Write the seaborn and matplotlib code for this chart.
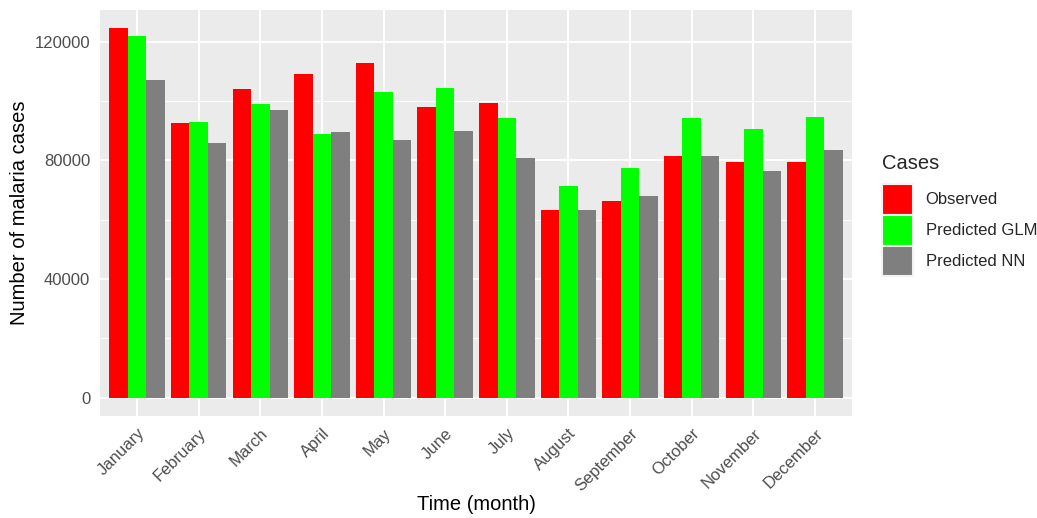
"""
Observed vs predicted malaria cases per month (GLM and NN), ggplot-like look.
"""
import numpy as np
import pandas as pd
import matplotlib
matplotlib.use("Agg")
import matplotlib.pyplot as plt
import matplotlib.patches as mpatches
import seaborn as sns

# ── data ─────────────────────────────────────────────────────────────────────
months = ["January", "February", "March", "April", "May", "June",
          "July", "August", "September", "October", "November", "December"]
observed  = [124500, 92700, 104200, 109300, 113000, 98100,
             99500, 63300, 66400, 81600, 79500, 79500]
pred_glm  = [121800, 93100, 99100, 89000, 103200, 104500,
             94400, 71400, 77500, 94400, 90700, 94700]
pred_nn   = [107200, 86000, 97100, 89700, 87000, 90000,
             80900, 63300, 68000, 81600, 76500, 83600]
series    = ["Observed", "Predicted GLM", "Predicted NN"]
colors    = ["#FF0000", "#00FF00", "#7F7F7F"]
y_ticks   = [0, 40000, 80000, 120000]

df = pd.DataFrame({
    "Month": months * 3,
    "Cases": observed + pred_glm + pred_nn,
    "Series": np.repeat(series, len(months)),
})

# ── style ────────────────────────────────────────────────────────────────────
sns.set_theme(style="white")
plt.rcParams["font.family"] = ["Liberation Sans", "DejaVu Sans"]

fig, ax = plt.subplots(figsize=(10.37, 5.18), dpi=100)
fig.subplots_adjust(left=100 / 1037, right=852 / 1037,
                    top=1 - 10 / 518, bottom=1 - 416 / 518)

sns.barplot(data=df, x="Month", y="Cases", hue="Series",
            order=months, hue_order=series, palette=colors,
            width=0.9, saturation=1, linewidth=0, errorbar=None, ax=ax)

ax.set_facecolor("#EBEBEB")
for s in ax.spines.values():
    s.set_visible(False)

ymax = max(observed + pred_glm + pred_nn)
ax.set_ylim(-0.05 * ymax, 1.05 * ymax)
ax.set_xlim(-0.6, len(months) - 0.4)
ax.set_yticks(y_ticks)
ax.set_yticks([20000, 60000, 100000], minor=True)
ax.set_axisbelow(True)
ax.grid(which="major", axis="both", color="white", linewidth=1.4)
ax.grid(which="minor", axis="y", color="white", linewidth=0.7)
ax.tick_params(axis="both", which="major", length=4, width=1.1,
               color="#333333", labelcolor="#4D4D4D", labelsize=12, pad=3)
ax.tick_params(axis="y", which="minor", length=0)
plt.setp(ax.get_xticklabels(), rotation=45, ha="right", rotation_mode="anchor")

ax.set_xlabel("Time (month)", fontsize=14.5, color="black", labelpad=1)
ax.set_ylabel("Number of malaria cases", fontsize=14.5, color="black", labelpad=4)

# ── legend ───────────────────────────────────────────────────────────────────
handles = [mpatches.Patch(facecolor=c, edgecolor="#F2F2F2", linewidth=1.5)
           for c in colors]
leg = ax.legend(handles, series, title="Cases", loc="center left",
                bbox_to_anchor=(882 / 1037, 1 - 215 / 518),
                bbox_transform=fig.transFigure, frameon=False,
                fontsize=12, title_fontsize=14.5, handlelength=1.86,
                handleheight=2.48, labelspacing=0.0, handletextpad=0.75,
                borderpad=0, borderaxespad=0, alignment="left")
leg._legend_box.sep = 8

fig.savefig("out.png", dpi=100)
plt.close()
